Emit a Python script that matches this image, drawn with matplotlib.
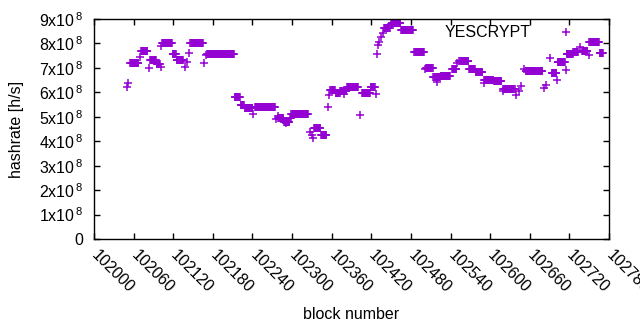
import numpy as np
import matplotlib
matplotlib.use("Agg")
import matplotlib.pyplot as plt
from matplotlib.ticker import FuncFormatter

plt.rcParams["font.family"] = ["Liberation Sans", "DejaVu Sans"]
plt.rcParams["mathtext.fontset"] = "custom"
plt.rcParams["mathtext.rm"] = "Liberation Sans"
plt.rcParams["mathtext.it"] = "Liberation Sans"

# runs of blocks that share the same hashrate (first block, last block, hashrate in 1e8 h/s)
run_start = [102050, 102052, 102055, 102069, 102071, 102083, 102085, 102095, 102101, 102102,
             102103, 102119, 102125, 102138, 102141, 102144, 102146, 102166, 102169, 102171,
             102213, 102222, 102228, 102241, 102244, 102275, 102278, 102279, 102288, 102291,
             102297, 102299, 102327, 102330, 102332, 102333, 102344, 102354, 102356, 102358,
             102366, 102373, 102379, 102383, 102403, 102406, 102419, 102427, 102429, 102430,
             102432, 102434, 102437, 102439, 102450, 102451, 102465, 102485, 102501, 102503,
             102514, 102520, 102525, 102542, 102550, 102553, 102555, 102568, 102578, 102590,
             102591, 102606, 102619, 102620, 102639, 102643, 102646, 102651, 102654, 102682,
             102685, 102690, 102693, 102701, 102702, 102715, 102716, 102726, 102736, 102739,
             102749, 102750, 102766]
run_end = [102050, 102052, 102067, 102069, 102081, 102083, 102094, 102100, 102101, 102102,
           102118, 102124, 102135, 102138, 102141, 102144, 102165, 102166, 102169, 102212,
           102221, 102227, 102240, 102241, 102274, 102275, 102278, 102287, 102296, 102291,
           102298, 102324, 102327, 102330, 102332, 102343, 102352, 102354, 102356, 102365,
           102372, 102382, 102379, 102400, 102403, 102418, 102425, 102427, 102429, 102430,
           102432, 102434, 102437, 102448, 102450, 102464, 102483, 102500, 102501, 102513,
           102524, 102520, 102539, 102549, 102550, 102553, 102567, 102577, 102588, 102590,
           102605, 102617, 102619, 102637, 102639, 102643, 102646, 102651, 102679, 102682,
           102685, 102690, 102700, 102701, 102713, 102715, 102725, 102733, 102736, 102747,
           102749, 102765, 102771]
run_value = [6.21, 6.37, 7.19, 7.46, 7.68, 6.98, 7.31, 7.17, 7.05, 7.90,
             8.01, 7.56, 7.34, 7.03, 7.23, 7.60, 8.01, 7.19, 7.53, 7.56,
             5.82, 5.47, 5.37, 5.10, 5.39, 4.90, 5.03, 4.94, 4.79, 4.73,
             4.95, 5.10, 4.39, 4.24, 4.12, 4.53, 4.26, 5.39, 5.89, 6.08,
             5.97, 6.06, 5.93, 6.22, 5.07, 5.98, 6.20, 5.94, 7.57, 7.94,
             8.07, 8.28, 8.42, 8.63, 8.78, 8.85, 8.54, 7.65, 6.94, 7.01,
             6.62, 6.44, 6.65, 6.95, 7.19, 7.30, 7.30, 6.97, 6.83, 6.37,
             6.52, 6.48, 6.07, 6.12, 5.89, 6.07, 6.26, 6.94, 6.87, 6.17,
             6.30, 7.39, 6.78, 6.51, 7.23, 6.91, 7.55, 7.63, 7.87, 7.70,
             7.53, 8.05, 7.60]

x_ticks = list(range(102000, 102781, 60))

blocks = []
hashrate = []
for s, e, v in zip(run_start, run_end, run_value):
    for b in range(s, e + 1):
        blocks.append(b)
        hashrate.append(v * 1e8)

fig = plt.figure(figsize=(6.4, 3.3), dpi=100)
ax = fig.add_axes([94 / 640, 1 - 239 / 330, 515 / 640, 220 / 330])

ax.plot(blocks, hashrate, linestyle="none", marker="+", markersize=5.5,
        markeredgewidth=1.1, color="#9400d3", label="YESCRYPT")

ax.set_xlim(102000, 102780)
ax.set_ylim(0, 9e8)
ax.set_xticks(x_ticks)
ax.set_yticks(np.arange(0, 9.1e8, 1e8))
ax.yaxis.set_major_formatter(FuncFormatter(
    lambda v, p: "0" if v == 0 else "%dx10$^{\\,8}$" % round(v / 1e8)))

ax.tick_params(direction="in", length=4, width=1, top=True, right=True,
               labelsize=11.5, colors="black")
ax.tick_params(axis="y", pad=8)
for lab in ax.get_xticklabels():
    lab.set_rotation(-45)
    lab.set_ha("left")
    lab.set_va("center")
    lab.set_rotation_mode("anchor")
ax.tick_params(axis="x", pad=10)
for sp in ax.spines.values():
    sp.set_linewidth(1)

ax.set_xlabel("block number", fontsize=11.5)
ax.set_ylabel("hashrate [h/s]", fontsize=11.5)
ax.xaxis.set_label_coords(0.5, -0.31)
ax.yaxis.set_label_coords(-0.136, 0.5)

ax.legend(loc="upper right", bbox_to_anchor=(0.948, 0.972), frameon=False,
          markerfirst=False, fontsize=11.5, handlelength=2, handletextpad=1.25,
          borderaxespad=0, borderpad=0)

fig.savefig("out.png", dpi=100)
